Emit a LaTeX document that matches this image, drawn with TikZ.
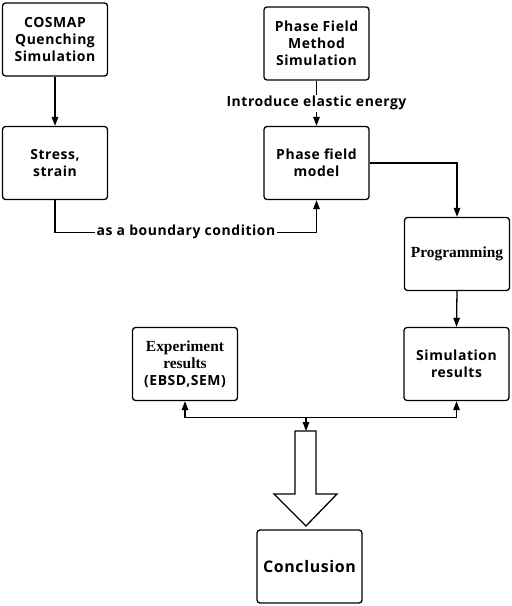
\documentclass[tikz,border=0pt]{standalone}
\usepackage{fontspec}
\setmainfont[LetterSpace=4]{Open Sans}
\newfontfamily\serifb{Liberation Serif}
\usetikzlibrary{arrows.meta}
\begin{document}
\begin{tikzpicture}[x=1bp,y=-1bp,
  box/.style={draw,line width=1.3bp,rounded corners=3bp,minimum width=105bp,minimum height=73bp,align=center,inner sep=0pt,font=\fontsize{14}{17}\selectfont\bfseries},
  conn/.style={line width=1.3bp,-{Triangle[length=9bp,width=6.5bp]}},
  lbl/.style={fill=white,inner sep=1.5bp,font=\fontsize{14}{16}\selectfont\bfseries}]
\useasboundingbox (0,0) rectangle (512,606);
\node[box] (cosmap) at (55,39.5) {COSMAP\\Quenching\\Simulation};
\node[box] (stress) at (55,163) {Stress,\\strain};
\node[box] (pfm) at (316.5,43.5) {Phase Field\\Method\\Simulation};
\node[box] (pfmodel) at (316.5,163) {Phase field\\model};
\node[box,font=\fontsize{15.5}{18}\selectfont\serifb\bfseries] (prog) at (457,254) {Programming};
\node[box] (simres) at (456.5,364) {Simulation\\results};
\node[box] (exp) at (185,364) {{\serifb\fontsize{15.5}{18}\selectfont\bfseries Experiment}\\{\serifb\fontsize{15.5}{18}\selectfont\bfseries results}\\(EBSD,SEM)};
\node[box,font=\fontsize{16}{20}\selectfont\bfseries] (concl) at (309.5,566.5) {Conclusion};
\draw[conn] (cosmap.south) -- (stress.north);
\draw[conn] (stress.south) -- ++(0,32) -| (pfmodel.south);
\node[lbl] (bc) at (186,232) {as a boundary condition};
\draw[conn] (pfm.south) -- (pfmodel.north) node[lbl,midway] (ee) {Introduce elastic energy};
\draw[conn] (pfmodel.east) -| (prog.north);
\draw[conn] (prog.south) -- (simres.north);
\draw[line width=1.3bp,{Triangle[length=9bp,width=6.5bp]}-{Triangle[length=9bp,width=6.5bp]}] (exp.south) -- ++(0,16) -| (simres.south);
\coordinate (junc) at (306,417);
\coordinate (bigtop) at (306,431);
\draw[conn] (junc) -- (bigtop);
\draw[line width=1.3bp,line join=miter] (295,431) -- (316,431) -- (316,494) -- (337,494) -- (306,526) -- (274,494) -- (295,494) -- cycle;
\end{tikzpicture}
\end{document}
